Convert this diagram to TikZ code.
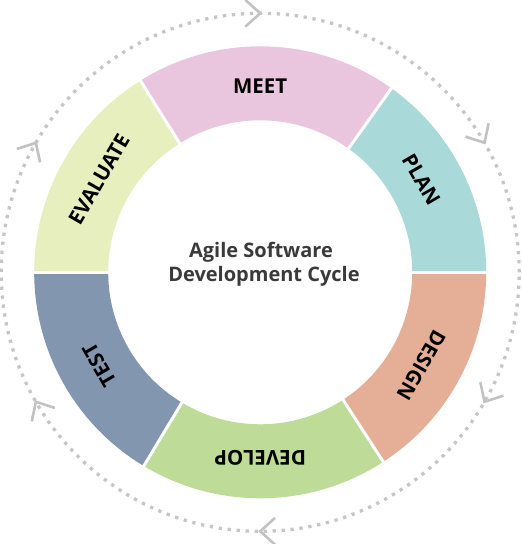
\documentclass[tikz,border=0pt]{standalone}
\usepackage{fontspec}
\setmainfont{Open Sans}
\usetikzlibrary{calc}
\definecolor{cmeet}{HTML}{E9C6DE}
\definecolor{cplan}{HTML}{A9D9D8}
\definecolor{cdesign}{HTML}{E5AF97}
\definecolor{cdevelop}{HTML}{BEDC98}
\definecolor{ctest}{HTML}{8396B0}
\definecolor{ceval}{HTML}{E8EFBF}
\definecolor{cdots}{HTML}{C6C6C6}
\definecolor{cchev}{HTML}{C2C2C2}
\definecolor{ctitle}{HTML}{3A3A3A}
\tikzset{
  dotring/.style={cdots, line width=3.3pt, dash pattern=on 3.3pt off 5.7pt},
  chevron/.style={cchev, line width=2.6pt, line join=miter},
  gapline/.style={white, line width=3pt},
  seglabel/.style={font=\bfseries\fontsize{20.5}{21}\selectfont, text=black, inner sep=0pt},
  titletext/.style={font=\bfseries\fontsize{20}{22}\selectfont, text=ctitle, inner sep=0pt}
}
\newcommand{\ringseg}[3]{%
  \fill[#1] ($(C)+(#2:226pt)$) arc[start angle=#2, end angle=#3, radius=226pt]
    -- ($(C)+(#3:152pt)$) arc[start angle=#3, end angle=#2, radius=152pt] -- cycle;}
\begin{document}
\begin{tikzpicture}
\useasboundingbox (0pt,0pt) rectangle (522pt,544pt);
\coordinate (C) at (260.2pt,271.7pt);
% dotted ring
\draw[dotring] (C) circle[radius=259pt];
% chevrons
\foreach \a in {90,30,-30,-90,-150,150}{
  \pgfmathsetmacro\b{\a+132}
  \pgfmathsetmacro\c{\a+48}
  \coordinate (tip\a) at ($(C)+(\a:259pt)$);
  \draw[chevron] ($(tip\a)+(\b:20pt)$) -- (tip\a) -- ($(tip\a)+(\c:20pt)$);
}
% ring segments
\ringseg{cplan}{0}{54.5}
\ringseg{cmeet}{54.5}{122}
\ringseg{ceval}{122}{180}
\ringseg{ctest}{180}{239}
\ringseg{cdevelop}{239}{303}
\ringseg{cdesign}{303}{360}
% white gaps
\foreach \a in {0,54.5,122,180,239,303}{
  \draw[gapline] ($(C)+(\a:148pt)$) -- ($(C)+(\a:230pt)$);
}
% labels
\node[seglabel, rotate=0]    (lmeet)    at ($(C)+(90:186pt)$)   {MEET};
\node[seglabel, rotate=-60]  (lplan)    at ($(C)+(30:186pt)$)   {PLAN};
\node[seglabel, rotate=-120] (ldesign)  at ($(C)+(-30:186pt)$)  {DESIGN};
\node[seglabel, rotate=180]  (ldevelop) at ($(C)+(-90:186pt)$)  {DEVELOP};
\node[seglabel, rotate=120]  (ltest)    at ($(C)+(-150:186pt)$) {TEST};
\node[seglabel, rotate=60]   (leval)    at ($(C)+(150:186pt)$)  {EVALUATE};
% center title
\node[titletext, anchor=base] (title1) at (261pt,286pt) {Agile Software};
\node[titletext, anchor=base] (title2) at (264pt,262pt) {Development Cycle};
\end{tikzpicture}
\end{document}
